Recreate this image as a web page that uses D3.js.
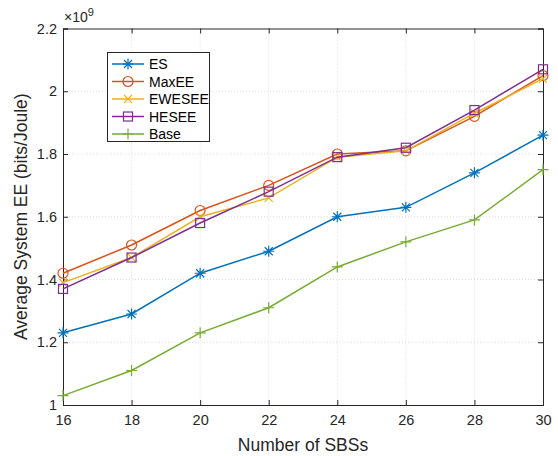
<!DOCTYPE html>
<html><head><meta charset="utf-8">
<script src="https://cdn.jsdelivr.net/npm/d3@7"></script>
<style>body{margin:0;background:#fff}text{font-family:"Liberation Sans",Arial,sans-serif}</style>
</head><body><svg id="c" width="558" height="456"></svg>
<script>
const xValues = [16, 18, 20, 22, 24, 26, 28, 30];
const seriesNames = ["ES", "MaxEE", "EWESEE", "HESEE", "Base"];
const esValues     = [1.23, 1.29, 1.42, 1.49, 1.60, 1.63, 1.74, 1.86];
const maxeeValues  = [1.42, 1.51, 1.62, 1.70, 1.80, 1.81, 1.92, 2.05];
const ewseeValues  = [1.39, 1.47, 1.60, 1.66, 1.79, 1.81, 1.93, 2.04];
const heseeValues  = [1.37, 1.47, 1.58, 1.68, 1.79, 1.82, 1.94, 2.07];
const baseValues   = [1.03, 1.11, 1.23, 1.31, 1.44, 1.52, 1.59, 1.75];
const xTicks = [16, 18, 20, 22, 24, 26, 28, 30];
const yTicks = [1, 1.2, 1.4, 1.6, 1.8, 2, 2.2];
const colors = ["#0072BD", "#D95319", "#EDB120", "#7E2F8E", "#77AC30"];
const markers = ["star", "circle", "x", "square", "plus"];
const allValues = [esValues, maxeeValues, ewseeValues, heseeValues, baseValues];

const svg = d3.select("#c");
const L = 63, R = 543, T = 28.5, B = 405;
const x = d3.scaleLinear().domain([16, 30]).range([L, R]);
const y = d3.scaleLinear().domain([1, 2.2]).range([B, T]);

// grid
const g = svg.append("g");
g.selectAll(".gx").data(xTicks.slice(1, -1)).enter().append("line")
  .attr("x1", d => x(d)).attr("x2", d => x(d)).attr("y1", T).attr("y2", B)
  .attr("stroke", "#dcdcdc").attr("stroke-width", 1).attr("stroke-dasharray", "1,2");
g.selectAll(".gy").data(yTicks.slice(1, -1)).enter().append("line")
  .attr("y1", d => y(d)).attr("y2", d => y(d)).attr("x1", L).attr("x2", R)
  .attr("stroke", "#dcdcdc").attr("stroke-width", 1).attr("stroke-dasharray", "1,2");

// axes
const ax = d3.axisBottom(x).tickValues(xTicks).tickSize(-5).tickPadding(10).tickFormat(d3.format("d"));
const ay = d3.axisLeft(y).tickValues(yTicks).tickSize(-5).tickPadding(6).tickFormat(d => String(d));
const axT = d3.axisTop(x).tickValues(xTicks).tickSize(-5).tickFormat("");
const ayR = d3.axisRight(y).tickValues(yTicks).tickSize(-5).tickFormat("");
function style(sel) {
  sel.select(".domain").attr("stroke", "#262626").attr("stroke-width", 1);
  sel.selectAll(".tick line").attr("stroke", "#262626");
  sel.selectAll("text").attr("fill", "#262626").style("font-size", "14.5px").style("font-family", "Liberation Sans, Arial, sans-serif");
}
svg.append("g").attr("transform", `translate(0,${B})`).call(ax).call(style);
svg.append("g").attr("transform", `translate(${L},0)`).call(ay).call(style);
svg.append("g").attr("transform", `translate(0,${T})`).call(axT).call(style);
svg.append("g").attr("transform", `translate(${R},0)`).call(ayR).call(style);

// exponent
const ex = svg.append("text").attr("x", 64).attr("y", 22).attr("fill", "#262626").style("font-size", "14px");
ex.append("tspan").text("\u00d710");
ex.append("tspan").attr("dy", -6).style("font-size", "11px").text("9");

// labels
svg.append("text").attr("x", (L + R) / 2).attr("y", 451).attr("text-anchor", "middle")
  .attr("fill", "#262626").style("font-size", "17.5px").text("Number of SBSs");
svg.append("text").attr("transform", `translate(27,${(T + B) / 2}) rotate(-90)`).attr("text-anchor", "middle")
  .attr("fill", "#262626").style("font-size", "17.5px").text("Average System EE (bits/Joule)");

function drawMarker(sel, type, cx, cy, color) {
  const s = 5;
  if (type === "circle") {
    sel.append("circle").attr("cx", cx).attr("cy", cy).attr("r", s).attr("fill", "none").attr("stroke", color).attr("stroke-width", 1.2);
  } else if (type === "square") {
    sel.append("rect").attr("x", cx - 4.5).attr("y", cy - 4.5).attr("width", 9).attr("height", 9).attr("fill", "none").attr("stroke", color).attr("stroke-width", 1.2);
  } else if (type === "x") {
    sel.append("path").attr("d", `M${cx-4},${cy-4}L${cx+4},${cy+4}M${cx-4},${cy+4}L${cx+4},${cy-4}`).attr("stroke", color).attr("stroke-width", 1.2);
  } else if (type === "plus") {
    sel.append("path").attr("d", `M${cx-5.5},${cy}L${cx+5.5},${cy}M${cx},${cy-5.5}L${cx},${cy+5.5}`).attr("stroke", color).attr("stroke-width", 1.2);
  } else if (type === "star") {
    sel.append("path").attr("d", `M${cx-5.5},${cy}L${cx+5.5},${cy}M${cx},${cy-5.5}L${cx},${cy+5.5}M${cx-4},${cy-4}L${cx+4},${cy+4}M${cx-4},${cy+4}L${cx+4},${cy-4}`).attr("stroke", color).attr("stroke-width", 1.2);
  }
}

const line = d3.line().x((d, i) => x(xValues[i])).y(d => y(d));
allValues.forEach((vals, k) => {
  const gg = svg.append("g");
  gg.append("path").datum(vals).attr("d", line).attr("fill", "none").attr("stroke", colors[k]).attr("stroke-width", 1.5);
  vals.forEach((v, i) => drawMarker(gg, markers[k], x(xValues[i]), y(v), colors[k]));
});

// legend
const lg = svg.append("g");
lg.append("rect").attr("x", 107.5).attr("y", 52.5).attr("width", 102).attr("height", 89)
  .attr("fill", "#fff").attr("stroke", "#262626").attr("stroke-width", 1);
seriesNames.forEach((n, k) => {
  const yy = 64 + k * 17.5;
  lg.append("line").attr("x1", 112).attr("x2", 144).attr("y1", yy).attr("y2", yy).attr("stroke", colors[k]).attr("stroke-width", 1.5);
  drawMarker(lg, markers[k], 128, yy, colors[k]);
  lg.append("text").attr("x", 149).attr("y", yy + 5).attr("fill", "#000").style("font-size", "14px").text(n);
});
</script></body></html>
